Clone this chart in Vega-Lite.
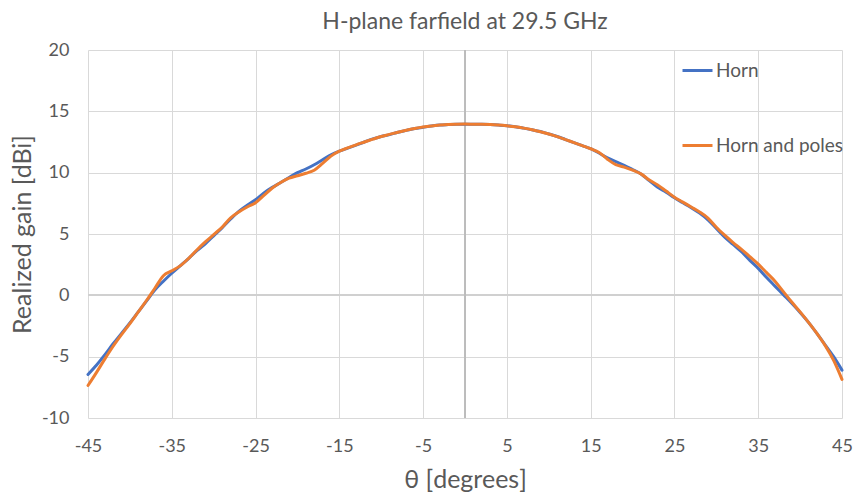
{
  "$schema": "https://vega.github.io/schema/vega-lite/v6.json",
  "width": 754,
  "height": 368,
  "autosize": {"type": "none"},
  "padding": {"left": 88, "top": 50, "right": 16, "bottom": 79},
  "background": "white",
  "config": {
    "font": "Lato",
    "view": {"stroke": null},
    "axis": {
      "labelFont": "Lato",
      "titleFont": "Lato",
      "labelColor": "#595959",
      "titleColor": "#595959",
      "titleFontWeight": "normal",
      "grid": true,
      "gridColor": "#d9d9d9",
      "gridWidth": 1,
      "domain": false,
      "ticks": false
    }
  },
  "title": {
    "text": "H-plane farfield at 29.5 GHz",
    "font": "Lato",
    "fontSize": 23,
    "fontWeight": "normal",
    "color": "#595959",
    "anchor": "middle",
    "offset": 7
  },
  "data": {
    "values": [
      {"theta": -45, "Horn": -6.45, "Horn and poles": -7.35},
      {"theta": -44, "Horn": -5.7, "Horn and poles": -6.3},
      {"theta": -43, "Horn": -4.85, "Horn and poles": -5.2},
      {"theta": -42, "Horn": -3.95, "Horn and poles": -4.15},
      {"theta": -41, "Horn": -3.1, "Horn and poles": -3.2},
      {"theta": -40, "Horn": -2.25, "Horn and poles": -2.3},
      {"theta": -39, "Horn": -1.35, "Horn and poles": -1.35},
      {"theta": -38, "Horn": -0.45, "Horn and poles": -0.4},
      {"theta": -37, "Horn": 0.45, "Horn and poles": 0.6},
      {"theta": -36, "Horn": 1.15, "Horn and poles": 1.6},
      {"theta": -35, "Horn": 1.8, "Horn and poles": 2.0},
      {"theta": -34, "Horn": 2.4, "Horn and poles": 2.4},
      {"theta": -33, "Horn": 3.0, "Horn and poles": 3.0},
      {"theta": -32, "Horn": 3.65, "Horn and poles": 3.7},
      {"theta": -31, "Horn": 4.2, "Horn and poles": 4.35},
      {"theta": -30, "Horn": 4.85, "Horn and poles": 4.95},
      {"theta": -29, "Horn": 5.5, "Horn and poles": 5.55},
      {"theta": -28, "Horn": 6.2, "Horn and poles": 6.3},
      {"theta": -27, "Horn": 6.85, "Horn and poles": 6.8},
      {"theta": -26, "Horn": 7.35, "Horn and poles": 7.2},
      {"theta": -25, "Horn": 7.8, "Horn and poles": 7.55},
      {"theta": -24, "Horn": 8.35, "Horn and poles": 8.15},
      {"theta": -23, "Horn": 8.8, "Horn and poles": 8.75},
      {"theta": -22, "Horn": 9.2, "Horn and poles": 9.2},
      {"theta": -21, "Horn": 9.6, "Horn and poles": 9.55},
      {"theta": -20, "Horn": 10.0, "Horn and poles": 9.75},
      {"theta": -19, "Horn": 10.3, "Horn and poles": 9.95},
      {"theta": -18, "Horn": 10.65, "Horn and poles": 10.2},
      {"theta": -17, "Horn": 11.05, "Horn and poles": 10.75},
      {"theta": -16, "Horn": 11.45, "Horn and poles": 11.35},
      {"theta": -15, "Horn": 11.75, "Horn and poles": 11.75},
      {"theta": -14, "Horn": 12.0, "Horn and poles": 12.02},
      {"theta": -13, "Horn": 12.25, "Horn and poles": 12.27},
      {"theta": -12, "Horn": 12.5, "Horn and poles": 12.5},
      {"theta": -11, "Horn": 12.75, "Horn and poles": 12.73},
      {"theta": -10, "Horn": 12.95, "Horn and poles": 12.95},
      {"theta": -9, "Horn": 13.1, "Horn and poles": 13.12},
      {"theta": -8, "Horn": 13.3, "Horn and poles": 13.3},
      {"theta": -7, "Horn": 13.45, "Horn and poles": 13.46},
      {"theta": -6, "Horn": 13.6, "Horn and poles": 13.6},
      {"theta": -5, "Horn": 13.7, "Horn and poles": 13.72},
      {"theta": -4, "Horn": 13.8, "Horn and poles": 13.81},
      {"theta": -3, "Horn": 13.88, "Horn and poles": 13.88},
      {"theta": -2, "Horn": 13.92, "Horn and poles": 13.93},
      {"theta": -1, "Horn": 13.95, "Horn and poles": 13.95},
      {"theta": 0, "Horn": 13.95, "Horn and poles": 13.96},
      {"theta": 1, "Horn": 13.95, "Horn and poles": 13.95},
      {"theta": 2, "Horn": 13.94, "Horn and poles": 13.94},
      {"theta": 3, "Horn": 13.92, "Horn and poles": 13.92},
      {"theta": 4, "Horn": 13.88, "Horn and poles": 13.88},
      {"theta": 5, "Horn": 13.83, "Horn and poles": 13.82},
      {"theta": 6, "Horn": 13.75, "Horn and poles": 13.74},
      {"theta": 7, "Horn": 13.63, "Horn and poles": 13.63},
      {"theta": 8, "Horn": 13.5, "Horn and poles": 13.5},
      {"theta": 9, "Horn": 13.35, "Horn and poles": 13.34},
      {"theta": 10, "Horn": 13.15, "Horn and poles": 13.15},
      {"theta": 11, "Horn": 12.95, "Horn and poles": 12.94},
      {"theta": 12, "Horn": 12.7, "Horn and poles": 12.7},
      {"theta": 13, "Horn": 12.45, "Horn and poles": 12.45},
      {"theta": 14, "Horn": 12.2, "Horn and poles": 12.2},
      {"theta": 15, "Horn": 11.95, "Horn and poles": 11.95},
      {"theta": 16, "Horn": 11.6, "Horn and poles": 11.65},
      {"theta": 17, "Horn": 11.2, "Horn and poles": 11.1},
      {"theta": 18, "Horn": 10.9, "Horn and poles": 10.65},
      {"theta": 19, "Horn": 10.6, "Horn and poles": 10.45},
      {"theta": 20, "Horn": 10.25, "Horn and poles": 10.2},
      {"theta": 21, "Horn": 9.9, "Horn and poles": 9.9},
      {"theta": 22, "Horn": 9.35, "Horn and poles": 9.4},
      {"theta": 23, "Horn": 8.8, "Horn and poles": 9.0},
      {"theta": 24, "Horn": 8.4, "Horn and poles": 8.5},
      {"theta": 25, "Horn": 7.95, "Horn and poles": 8.0},
      {"theta": 26, "Horn": 7.55, "Horn and poles": 7.6},
      {"theta": 27, "Horn": 7.15, "Horn and poles": 7.2},
      {"theta": 28, "Horn": 6.7, "Horn and poles": 6.8},
      {"theta": 29, "Horn": 6.15, "Horn and poles": 6.3},
      {"theta": 30, "Horn": 5.45, "Horn and poles": 5.55},
      {"theta": 31, "Horn": 4.75, "Horn and poles": 4.9},
      {"theta": 32, "Horn": 4.15, "Horn and poles": 4.3},
      {"theta": 33, "Horn": 3.55, "Horn and poles": 3.75},
      {"theta": 34, "Horn": 2.85, "Horn and poles": 3.15},
      {"theta": 35, "Horn": 2.2, "Horn and poles": 2.55},
      {"theta": 36, "Horn": 1.45, "Horn and poles": 1.85},
      {"theta": 37, "Horn": 0.75, "Horn and poles": 1.15},
      {"theta": 38, "Horn": 0.05, "Horn and poles": 0.3},
      {"theta": 39, "Horn": -0.65, "Horn and poles": -0.55},
      {"theta": 40, "Horn": -1.4, "Horn and poles": -1.35},
      {"theta": 41, "Horn": -2.2, "Horn and poles": -2.2},
      {"theta": 42, "Horn": -3.1, "Horn and poles": -3.1},
      {"theta": 43, "Horn": -4.05, "Horn and poles": -4.1},
      {"theta": 44, "Horn": -5.0, "Horn and poles": -5.3},
      {"theta": 45, "Horn": -6.1, "Horn and poles": -6.85}
    ]
  },
  "encoding": {
    "x": {
      "field": "theta",
      "type": "quantitative",
      "scale": {"domain": [-45, 45], "nice": false, "zero": false},
      "axis": {
        "title": "θ [degrees]",
        "values": [-45, -35, -25, -15, -5, 5, 15, 25, 35, 45],
        "labelExpr": "replace(datum.label, '−', '-')",
        "labelFontSize": 18,
        "labelPadding": 19,
        "titleFontSize": 25,
        "titlePadding": 12,
        "labelFlush": false,
        "grid": true
      }
    }
  },
  "layer": [
    {
      "mark": {"type": "rule", "color": "#d0d0d0", "strokeWidth": 1},
      "encoding": {
        "x": null,
        "y": {"datum": 0, "type": "quantitative"}
      }
    },
    {
      "mark": {"type": "rule", "color": "#bcbcbc", "strokeWidth": 1},
      "encoding": {
        "x": {"datum": 0, "type": "quantitative"}
      }
    },
    {
      "transform": [
        {"fold": ["Horn", "Horn and poles"], "as": ["series", "gain"]}
      ],
      "mark": {"type": "line", "strokeWidth": 3, "interpolate": "monotone", "strokeCap": "round", "strokeJoin": "round"},
      "encoding": {
        "y": {
          "field": "gain",
          "type": "quantitative",
          "scale": {"domain": [-10, 20], "nice": false, "zero": false},
          "axis": {
            "title": "Realized gain [dBi]",
            "values": [-10, -5, 0, 5, 10, 15, 20],
            "labelExpr": "replace(datum.label, '−', '-')",
            "labelFontSize": 18,
            "labelPadding": 19,
            "titleFontSize": 25,
            "titlePadding": 6,
            "grid": true
          }
        },
        "color": {
          "field": "series",
          "type": "nominal",
          "scale": {"domain": ["Horn", "Horn and poles"], "range": ["#4472C4", "#ED7D31"]},
          "legend": {
            "title": null,
            "orient": "none",
            "legendX": 593,
            "legendY": 4,
            "symbolType": "stroke",
            "symbolSize": 900,
            "symbolStrokeWidth": 3,
            "labelFontSize": 19,
            "labelColor": "#595959",
            "labelFont": "Lato",
            "labelOffset": 2,
            "rowPadding": 48
          }
        },
        "order": {"field": "series"}
      }
    }
  ]
}
